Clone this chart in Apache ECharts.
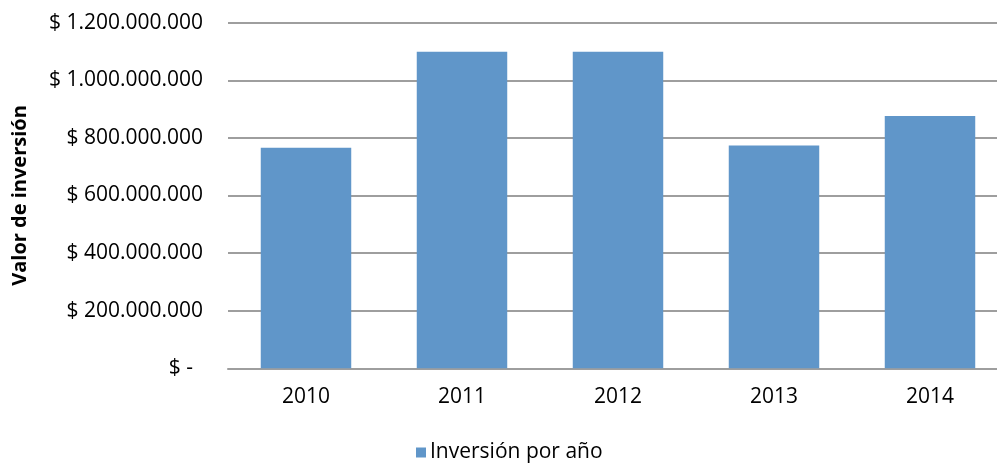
<!DOCTYPE html>
<html>
<head>
<meta charset="utf-8">
<script src="https://cdn.jsdelivr.net/npm/echarts@6/dist/echarts.min.js"></script>
<style>html,body{margin:0;padding:0;background:#fff}#c{width:997px;height:465px}</style>
</head>
<body>
<div id="c"></div>
<script>
const categories = ['2010', '2011', '2012', '2013', '2014'];
const inversion = [766000000, 1099000000, 1099000000, 774000000, 876000000];
const seriesName = 'Inversión por año';
const yAxisName = 'Valor de inversión';

function fmt(v) {
  if (v === 0) return '{z|$ -}';
  return '$ ' + String(v).replace(/\B(?=(\d{3})+(?!\d))/g, '.');
}

const chart = echarts.init(document.getElementById('c'), null, {renderer: 'canvas'});
const font = '"Open Sans", sans-serif';
chart.setOption({
  animation: false,
  textStyle: {fontFamily: font},
  grid: {left: 228, right: -11, top: 22.7, bottom: 96.7, outerBoundsMode: 'none', containLabel: false},
  legend: {
    data: [seriesName], bottom: -3, left: 411,
    icon: 'rect', itemWidth: 10, itemHeight: 10, itemGap: 10,
    textStyle: {fontFamily: font, fontSize: 21, color: '#000', padding: [0,0,0,-1]}
  },
  xAxis: {
    type: 'category', data: categories,
    axisLine: {lineStyle: {color: '#9e9e9e', width: 2}},
    axisTick: {show: false},
    axisLabel: {color: '#000', fontSize: 21, fontFamily: font, margin: 18}
  },
  yAxis: {
    type: 'value', min: 0, max: 1200000000, interval: 200000000,
    name: yAxisName, nameLocation: 'middle', nameRotate: 90, nameGap: 198,
    nameTextStyle: {fontFamily: font, fontSize: 20, fontWeight: 'bold', color: '#000'},
    axisLine: {show: false}, axisTick: {show: false},
    splitLine: {lineStyle: {color: '#9e9e9e', width: 2}},
    axisLabel: {
      color: '#000', fontSize: 21, fontFamily: font, margin: 25, formatter: fmt,
      rich: {z: {fontSize: 21, fontFamily: font, color: '#000', padding: [0, 10, 0, 0]}}
    }
  },
  series: [{
    name: seriesName, type: 'bar', data: inversion,
    barCategoryGap: '42%',
    itemStyle: {color: '#6096c9'}
  }]
});
</script>
</body>
</html>
